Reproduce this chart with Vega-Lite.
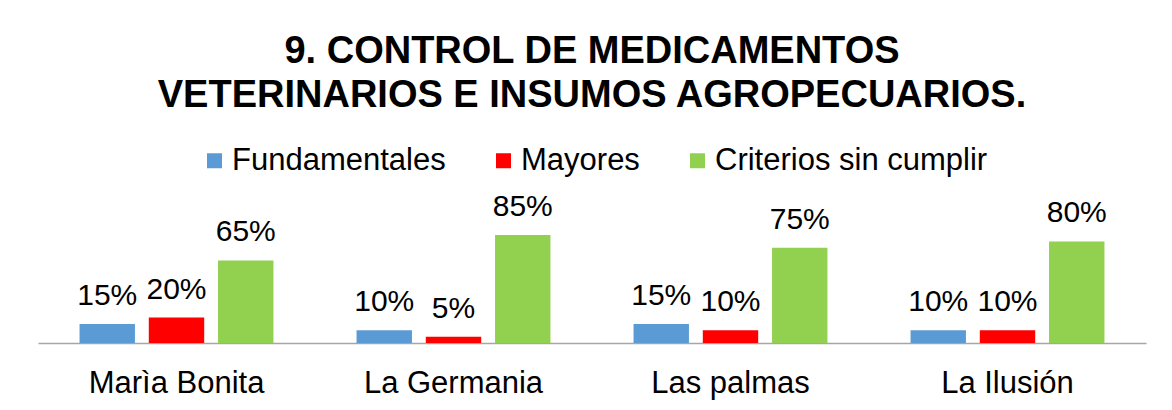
{
  "$schema": "https://vega.github.io/schema/vega-lite/v6.json",
  "autosize": {"type": "none"},
  "width": 1108,
  "height": 127,
  "padding": {"left": 38, "top": 216, "right": 26, "bottom": 67},
  "background": "white",
  "title": {
    "text": ["9. CONTROL DE MEDICAMENTOS", "VETERINARIOS E INSUMOS AGROPECUARIOS."],
    "font": "Liberation Sans",
    "fontSize": 38,
    "fontWeight": "bold",
    "color": "black",
    "lineHeight": 44,
    "anchor": "middle",
    "frame": "group",
    "offset": 30
  },
  "config": {
    "view": {"stroke": null},
    "font": "Liberation Sans"
  },
  "data": {
    "values": [
      {"finca": "Marìa Bonita", "serie": "Fundamentales", "valor": 0.15},
      {"finca": "Marìa Bonita", "serie": "Mayores", "valor": 0.20},
      {"finca": "Marìa Bonita", "serie": "Criterios sin cumplir", "valor": 0.65},
      {"finca": "La Germania", "serie": "Fundamentales", "valor": 0.10},
      {"finca": "La Germania", "serie": "Mayores", "valor": 0.05},
      {"finca": "La Germania", "serie": "Criterios sin cumplir", "valor": 0.85},
      {"finca": "Las palmas", "serie": "Fundamentales", "valor": 0.15},
      {"finca": "Las palmas", "serie": "Mayores", "valor": 0.10},
      {"finca": "Las palmas", "serie": "Criterios sin cumplir", "valor": 0.75},
      {"finca": "La Ilusión", "serie": "Fundamentales", "valor": 0.10},
      {"finca": "La Ilusión", "serie": "Mayores", "valor": 0.10},
      {"finca": "La Ilusión", "serie": "Criterios sin cumplir", "valor": 0.80}
    ]
  },
  "encoding": {
    "x": {
      "field": "finca",
      "type": "nominal",
      "sort": null,
      "scale": {"paddingInner": 0.3, "paddingOuter": 0.15},
      "axis": {
        "title": null,
        "labelAngle": 0,
        "labelFontSize": 31,
        "labelFont": "Liberation Sans",
        "labelColor": "black",
        "labelPadding": 25,
        "labelLimit": 0,
        "ticks": false,
        "domainColor": "#A6A6A6",
        "domainWidth": 1.5
      }
    },
    "xOffset": {
      "field": "serie",
      "type": "nominal",
      "sort": ["Fundamentales", "Mayores", "Criterios sin cumplir"],
      "scale": {"paddingInner": 0.2, "paddingOuter": 0}
    },
    "y": {
      "field": "valor",
      "type": "quantitative",
      "scale": {"domain": [0, 1]},
      "axis": null
    }
  },
  "layer": [
    {
      "mark": {"type": "bar"},
      "encoding": {
        "color": {
          "field": "serie",
          "type": "nominal",
          "sort": ["Fundamentales", "Mayores", "Criterios sin cumplir"],
          "scale": {
            "domain": ["Fundamentales", "Mayores", "Criterios sin cumplir"],
            "range": ["#5B9BD5", "#FF0000", "#92D050"]
          },
          "legend": {
            "title": null,
            "orient": "none",
            "direction": "horizontal",
            "legendX": 161,
            "legendY": -71,
            "padding": 0,
            "symbolType": "square",
            "symbolSize": 225,
            "symbolStrokeWidth": 0,
            "labelFontSize": 31,
            "labelFont": "Liberation Sans",
            "labelColor": "black",
            "labelOffset": 2,
            "labelLimit": 0,
            "columnPadding": 42
          }
        }
      }
    },
    {
      "mark": {
        "type": "text",
        "baseline": "alphabetic",
        "dy": -19,
        "fontSize": 30,
        "font": "Liberation Sans",
        "color": "black"
      },
      "encoding": {
        "text": {"field": "valor", "type": "quantitative", "format": ".0%"}
      }
    }
  ]
}
